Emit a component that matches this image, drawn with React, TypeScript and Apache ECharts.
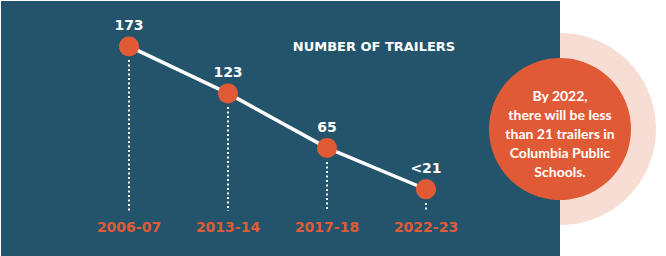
import React, { useEffect, useRef } from "react";
import * as echarts from "echarts";

const categories = ["2006-07", "2013-14", "2017-18", "2022-23"];
const trailerCounts = [173, 123, 65, 21];
const valueLabels = ["173", "123", "65", "<21"];
const titleText = "NUMBER OF TRAILERS";
const calloutText = "By 2022,\nthere will be less\nthan 21 trailers in\nColumbia Public\nSchools.";

const PANEL = "#23546b";
const ORANGE = "#e05b35";
const PINK = "#f8ddd4";

export default function App() {
  const ref = useRef<HTMLDivElement>(null);
  useEffect(() => {
    if (!ref.current) return;
    const chart = echarts.init(ref.current, undefined, { renderer: "svg" });
    chart.setOption({
      animation: false,
      backgroundColor: "#ffffff",
      grid: { left: 79.5, width: 396, top: 21, bottom: 47 },
      xAxis: {
        type: "category",
        data: categories,
        boundaryGap: true,
        z: 20,
        axisLine: { show: false },
        axisTick: { show: false },
        axisLabel: {
          color: ORANGE,
          fontFamily: "DejaVu Sans",
          fontWeight: "bold",
          fontSize: 14,
          margin: 11,
        },
      },
      yAxis: {
        type: "value",
        min: 0,
        max: 200,
        show: false,
        splitLine: { show: false },
      },
      graphic: [
        { type: "circle", z: 0, shape: { cx: 560, cy: 129, r: 96 }, style: { fill: PINK } },
        { type: "rect", z: 1, shape: { x: 1, y: 1, width: 559, height: 260 }, style: { fill: PANEL } },
        {
          type: "text",
          z: 5,
          x: 374,
          y: 46,
          style: {
            text: titleText,
            fill: "#ffffff",
            font: "bold 13px 'DejaVu Sans'",
            textAlign: "center",
            textVerticalAlign: "middle",
          },
        },
        { type: "circle", z: 50, shape: { cx: 560, cy: 129, r: 71 }, style: { fill: ORANGE } },
        {
          type: "text",
          z: 51,
          x: 560,
          y: 133,
          style: {
            text: calloutText,
            fill: "#ffffff",
            font: "bold 14px Lato",
            lineHeight: 19,
            textAlign: "center",
            textVerticalAlign: "middle",
          },
        },
      ],
      series: [
        {
          type: "custom",
          z: 8,
          data: trailerCounts.map((v, i) => [i, v]),
          renderItem: (params: any, api: any) => {
            const top = api.coord([api.value(0), api.value(1)]);
            const base = api.coord([api.value(0), 0]);
            const x = Math.round(top[0]);
            return {
              type: "line",
              shape: { x1: x, y1: Math.round(top[1]) + 14, x2: x, y2: Math.round(base[1]) + 2 },
              style: { stroke: "#ffffff", lineWidth: 2, lineDash: [2, 2.5] },
            };
          },
        },
        {
          type: "line",
          z: 10,
          data: trailerCounts,
          lineStyle: { color: "#ffffff", width: 3.5 },
          symbol: "circle",
          symbolSize: 20,
          itemStyle: { color: ORANGE },
          label: {
            show: true,
            position: "top",
            distance: 4,
            color: "#ffffff",
            fontFamily: "DejaVu Sans",
            fontWeight: "bold",
            fontSize: 14,
            formatter: (p: any) => valueLabels[p.dataIndex],
          },
        },
      ],
    });
    return () => chart.dispose();
  }, []);
  return (
    <div
      ref={ref}
      style={{ position: "fixed", left: 0, top: 0, width: 666, height: 256 }}
    />
  );
}
